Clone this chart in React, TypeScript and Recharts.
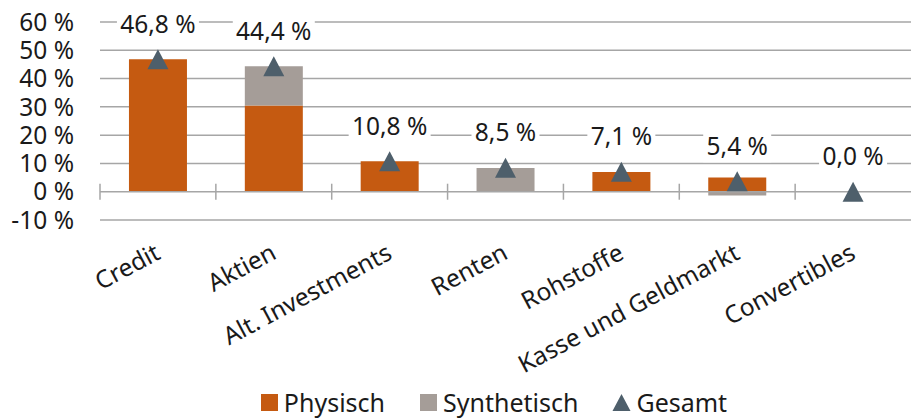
import React from 'react';
import { ComposedChart, Bar, Line, XAxis, YAxis, CartesianGrid, Legend, LabelList, ReferenceLine } from 'recharts';

const categories = ['Credit', 'Aktien', 'Alt. Investments', 'Renten', 'Rohstoffe', 'Kasse und Geldmarkt', 'Convertibles'];
const physisch = [46.8, 30.5, 10.8, 0, 7.0, 5.0, 0];
const synthetisch = [0, 13.9, 0, 8.4, 0, -1.3, 0];
const gesamt = [46.8, 44.4, 10.8, 8.5, 7.1, 3.7, 0];
const gesamtLabels = ['46,8 %', '44,4 %', '10,8 %', '8,5 %', '7,1 %', '5,4 %', '0,0 %'];
const yTicks = [-10, 0, 10, 20, 30, 40, 50, 60];

const ORANGE = '#c55a11';
const GREY = '#a59d98';
const SLATE = '#4e5f6b';
const GRID = '#a6a6a6';
const FONT = '"Noto Sans", sans-serif';

const W = 911;
const H = 418;
const PLOT_TOP = 22;
const PLOT_LEFT = 100;
const XAXIS_H = 158;
const LEGEND_H = 40;
const PLOT_BOTTOM = H - XAXIS_H - LEGEND_H;
const STEP = (W - PLOT_LEFT) / categories.length;
const ZERO_Y = PLOT_TOP + (60 / 70) * (PLOT_BOTTOM - PLOT_TOP);

const data = categories.map((name, i) => ({
  name,
  physisch: physisch[i],
  synthetisch: synthetisch[i],
  gesamt: gesamt[i],
  label: gesamtLabels[i],
}));

const CategoryTick = (props: any) => {
  const { x, y, payload } = props;
  const tx = x + 4;
  const ty = y + 38;
  return (
    <g>
      <line x1={x - STEP / 2} x2={x - STEP / 2} y1={ZERO_Y - 8} y2={ZERO_Y + 8} stroke={GRID} strokeWidth={1.5} />
      <text x={tx} y={ty} textAnchor="end" transform={`rotate(-28, ${tx}, ${ty})`} fontSize={24.5} fill="#1a1a1a" fontFamily={FONT}>
        {payload.value}
      </text>
    </g>
  );
};

const Triangle = (props: any) => {
  const { cx, cy, index } = props;
  if (cx == null || cy == null) return <g key={index} />;
  return <polygon key={index} points={`${cx},${cy - 10} ${cx - 10.5},${cy + 10} ${cx + 10.5},${cy + 10}`} fill={SLATE} />;
};

const ValueLabel = (props: any) => {
  const { x, y, value } = props;
  const text = String(value);
  const w = text.length * 14 - 2;
  const cy = y - 36;
  return (
    <g>
      <rect x={x - w / 2} y={cy - 17} width={w} height={34} fill="#fff" />
      <text x={x} y={cy} textAnchor="middle" dominantBaseline="central" fontSize={24.5} fill="#1a1a1a" fontFamily={FONT}>
        {text}
      </text>
    </g>
  );
};

const LegendContent = () => {
  const items = [
    { name: 'Physisch', color: ORANGE, shape: 'square' },
    { name: 'Synthetisch', color: GREY, shape: 'square' },
    { name: 'Gesamt', color: SLATE, shape: 'triangle' },
  ];
  return (
    <div style={{ display: 'flex', justifyContent: 'center', alignItems: 'center', height: LEGEND_H, paddingLeft: 76, position: 'relative', top: 4, fontFamily: FONT, fontSize: 25, lineHeight: '30px', color: '#1a1a1a' }}>
      {items.map((it) => (
        <div key={it.name} style={{ display: 'flex', alignItems: 'center', margin: '0 17px' }}>
          <svg width={19} height={19} style={{ marginRight: 5 }}>
            {it.shape === 'square' ? (
              <rect x={1} y={1} width={17} height={17} fill={it.color} />
            ) : (
              <polygon points="9.5,1 0.5,18 18.5,18" fill={it.color} />
            )}
          </svg>
          <span>{it.name}</span>
        </div>
      ))}
    </div>
  );
};

export default function App() {
  return (
    <div style={{ position: 'absolute', left: 0, top: 0, background: '#fff' }}>
      <ComposedChart
        width={W}
        height={H}
        data={data}
        margin={{ top: PLOT_TOP, right: 0, bottom: 0, left: 0 }}
        stackOffset="sign"
        barCategoryGap="25%"
      >
        <CartesianGrid vertical={false} stroke={GRID} strokeWidth={1.5} horizontalValues={[-10, 10, 20, 30, 40, 50, 60]} />
        <YAxis
          width={PLOT_LEFT}
          domain={[-10, 60]}
          ticks={yTicks}
          interval={0}
          axisLine={false}
          tickLine={false}
          tickSize={0}
          tickMargin={26}
          tickFormatter={(v) => `${v} %`}
          tick={{ fontSize: 24.5, fill: '#1a1a1a', fontFamily: FONT }}
        />
        <XAxis
          dataKey="name"
          height={XAXIS_H}
          interval={0}
          axisLine={false}
          tickLine={false}
          tickSize={0}
          tickMargin={0}
          tick={<CategoryTick />}
        />
        <Legend verticalAlign="bottom" height={LEGEND_H} content={<LegendContent />} />
        <Bar dataKey="physisch" stackId="a" fill={ORANGE} isAnimationActive={false} />
        <Bar dataKey="synthetisch" stackId="a" fill={GREY} isAnimationActive={false} />
        <ReferenceLine y={0} stroke={GRID} strokeWidth={1.5} />
        <Line dataKey="gesamt" stroke="none" dot={<Triangle />} activeDot={false} isAnimationActive={false}>
          <LabelList dataKey="label" content={<ValueLabel />} />
        </Line>
      </ComposedChart>
    </div>
  );
}
